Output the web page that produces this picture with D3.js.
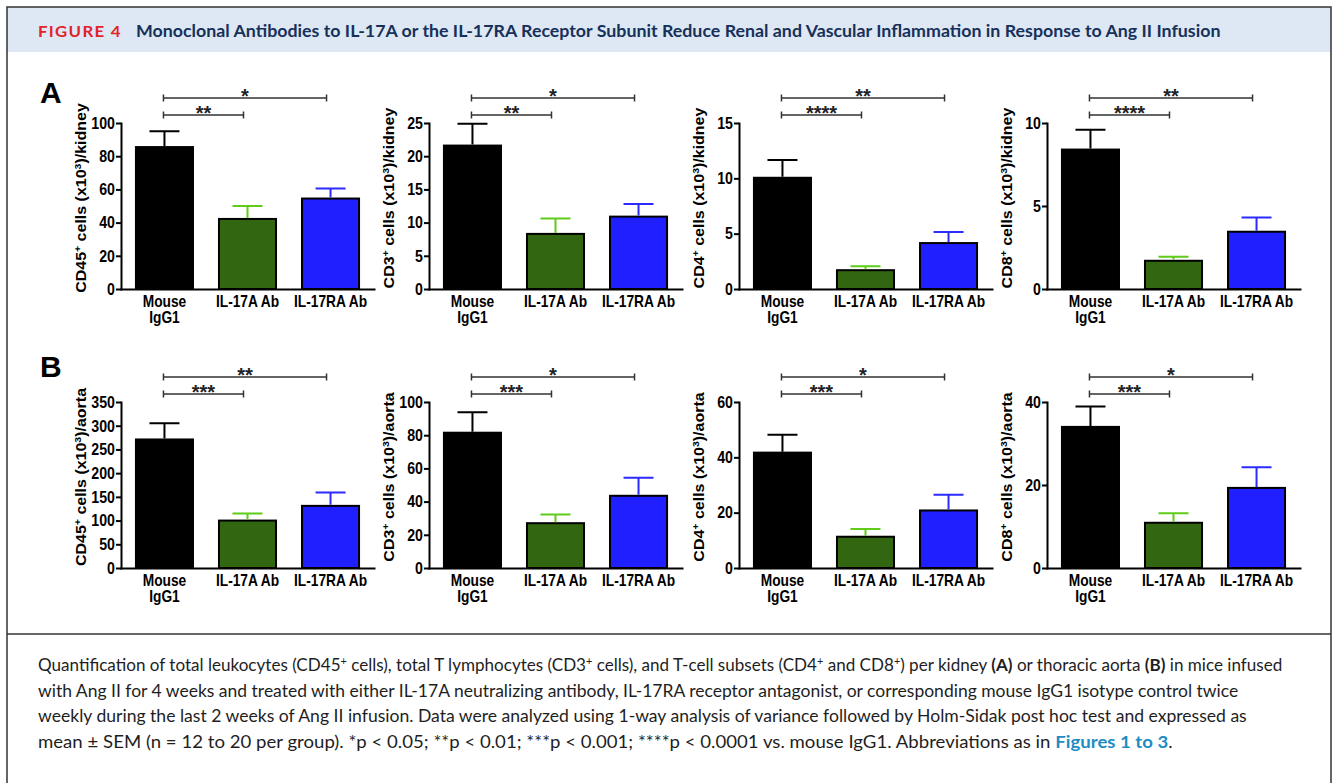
<!DOCTYPE html>
<html>
<head>
<meta charset="utf-8">
<script src="https://cdn.jsdelivr.net/npm/d3@7"></script>
<style>
  body { margin: 0; background: #fff; }
  svg { display: block; }
</style>
</head>
<body>
<div id="fig"></div>
<script>
// groups on the x axis
const groups = ["Mouse IgG1", "IL-17A Ab", "IL-17RA Ab"];
const groupLines = [["Mouse", "IgG1"], ["IL-17A Ab"], ["IL-17RA Ab"]];
const markers = ["CD45", "CD3", "CD4", "CD8"];

// A - per kidney (x10^3 cells), mean and SEM
const cd45Kidney = [85.5, 42.2, 54.5];
const cd45KidneySem = [9.6, 7.8, 6.1];
const cd3Kidney = [21.6, 8.3, 10.9];
const cd3KidneySem = [3.3, 2.3, 1.9];
const cd4Kidney = [10.05, 1.7, 4.15];
const cd4KidneySem = [1.6, 0.35, 1.0];
const cd8Kidney = [8.4, 1.7, 3.45];
const cd8KidneySem = [1.2, 0.25, 0.85];

// B - per aorta (x10^3 cells), mean and SEM
const cd45Aorta = [271, 100, 131];
const cd45AortaSem = [34, 15, 28];
const cd3Aorta = [81.5, 27, 43.5];
const cd3AortaSem = [12.3, 5.2, 10.8];
const cd4Aorta = [41.7, 11.3, 20.8];
const cd4AortaSem = [6.5, 2.8, 5.7];
const cd8Aorta = [34, 10.9, 19.3];
const cd8AortaSem = [4.9, 2.3, 5.0];

// tick labels
const kidneyTicks = [[0, 20, 40, 60, 80, 100], [0, 5, 10, 15, 20, 25], [0, 5, 10, 15], [0, 5, 10]];
const aortaTicks = [[0, 50, 100, 150, 200, 250, 300, 350], [0, 20, 40, 60, 80, 100], [0, 20, 40, 60], [0, 20, 40]];

// significance vs mouse IgG1: [IL-17A Ab, IL-17RA Ab]
const kidneyStars = [["**", "*"], ["**", "*"], ["****", "**"], ["****", "**"]];
const aortaStars = [["***", "**"], ["***", "*"], ["***", "*"], ["***", "*"]];

const fills = ["#000000", "#336611", "#1f1fff"];
const errColors = ["#000000", "#5ecc18", "#2b2bff"];

const W = 1336, H = 783;
const squeeze = 0.86;
const font = "'Liberation Sans', Arial, Helvetica, sans-serif";

const svg = d3.select("#fig").append("svg")
    .attr("width", W).attr("height", H)
    .attr("font-family", font);

// frame + header band
svg.append("rect")
    .attr("x", 7).attr("y", 7).attr("width", 1324).attr("height", 45)
    .attr("fill", "#dde8f4");
svg.append("rect")
    .attr("x", 7).attr("y", 7).attr("width", 1324).attr("height", 820)
    .attr("fill", "none").attr("stroke", "#333").attr("stroke-width", 1.5);
svg.append("line")
    .attr("x1", 7).attr("x2", 1331).attr("y1", 634).attr("y2", 634)
    .attr("stroke", "#333").attr("stroke-width", 1.5);

// fit a text element to a given width by squeezing it horizontally
function fitWidth(sel, x, y, width) {
    const w = sel.node().getComputedTextLength();
    sel.attr("transform", `translate(${x},${y}) scale(${width / w},1)`);
}

const fig = svg.append("text")
    .attr("font-family", "Lato, 'Open Sans', sans-serif")
    .attr("font-weight", "bold").attr("font-size", 15.5)
    .attr("letter-spacing", 1.2)
    .attr("fill", "#e2232a")
    .text("FIGURE 4");
fitWidth(fig, 38, 37, 84);

const title = svg.append("text")
    .attr("font-family", "Lato, 'Open Sans', sans-serif")
    .attr("font-weight", "bold").attr("font-size", 16.5)
    .attr("fill", "#17305a")
    .text("Monoclonal Antibodies to IL-17A or the IL-17RA Receptor Subunit Reduce Renal and Vascular Inflammation in Response to Ang II Infusion");
fitWidth(title, 136, 37, 1085);

// panel letters
svg.append("text").attr("x", 40).attr("y", 103)
    .attr("font-size", 30).attr("font-weight", "bold").text("A");
svg.append("text").attr("x", 40).attr("y", 377)
    .attr("font-size", 30).attr("font-weight", "bold").text("B");

function drawPanel(ax, top, bottom, means, sems, ticks, stars, marker, organ) {
    const g = svg.append("g");
    const y = d3.scaleLinear().domain([0, d3.max(ticks)]).range([bottom, top]);
    const x = d3.scaleBand().domain(groups).range([ax, ax + 253])
        .paddingInner(0.313).paddingOuter(0.18);
    const bw = x.bandwidth();
    const rows = groups.map((k, i) => ({ k: k, m: means[i], s: sems[i], i: i }));

    g.selectAll(".bar").data(rows).join("rect")
        .attr("class", "bar")
        .attr("x", d => x(d.k))
        .attr("y", d => y(d.m))
        .attr("width", bw)
        .attr("height", d => y(0) - y(d.m))
        .attr("fill", d => fills[d.i])
        .attr("stroke", "#000").attr("stroke-width", 2);

    g.selectAll(".err").data(rows).join("path")
        .attr("class", "err")
        .attr("d", d => {
            const cx = x(d.k) + bw / 2, y0 = y(d.m) - 1, y1 = y(d.m + d.s);
            return `M${cx},${y0}V${y1}M${cx - 15},${y1}H${cx + 15}`;
        })
        .attr("fill", "none")
        .attr("stroke", d => errColors[d.i]).attr("stroke-width", 2);

    // y axis
    g.append("g")
        .attr("transform", `translate(${ax},0)`)
        .call(d3.axisLeft(y).tickValues(ticks).tickSize(5).tickSizeOuter(0).tickPadding(2))
        .call(a => {
            a.attr("font-family", font).attr("font-size", 16.5).attr("font-weight", "bold");
            a.select(".domain").attr("stroke-width", 2).attr("stroke-linecap", "square");
            a.selectAll(".tick line").attr("stroke-width", 2);
            a.selectAll(".tick text").attr("fill", "#000")
                .attr("transform", `scale(${squeeze},1)`);
        });

    // x axis baseline + group labels
    g.append("g")
        .attr("transform", `translate(0,${bottom})`)
        .call(d3.axisBottom(x).tickSize(0).tickSizeOuter(0).tickFormat(() => ""))
        .call(a => {
            a.attr("font-family", font).attr("font-size", 16).attr("font-weight", "bold");
            a.select(".domain").attr("stroke-width", 2).attr("stroke-linecap", "square");
            a.selectAll(".tick text").each(function (d, i) {
                const t = d3.select(this).attr("y", 18).attr("dy", null)
                    .attr("fill", "#000")
                    .attr("transform", `scale(${squeeze},1)`);
                groupLines[i].forEach((ln, j) => {
                    t.append("tspan").attr("x", 0).attr("dy", j ? 16 : 0).text(ln);
                });
            });
        });

    // y title
    const yt = g.append("text")
        .attr("transform", `translate(${ax - 35},${(top + bottom) / 2 - 8}) rotate(-90) scale(1,0.92)`)
        .attr("text-anchor", "middle")
        .attr("font-size", 16).attr("font-weight", "bold");
    yt.append("tspan").text(marker);
    yt.append("tspan").attr("baseline-shift", "super").attr("font-size", 10.5).text("+");
    yt.append("tspan").text(" cells (x10");
    yt.append("tspan").attr("baseline-shift", "super").attr("font-size", 10.5).text("3");
    yt.append("tspan").text(")/" + organ);

    // significance brackets
    const c = k => x(groups[k]) + bw / 2;
    [[1, top - 8, stars[0]], [2, top - 25, stars[1]]].forEach(([k, ly, s]) => {
        const x0 = c(0) - 1, x1 = c(k) - 4;
        g.append("path")
            .attr("d", `M${x0},${ly - 3.5}V${ly + 3.5}M${x0},${ly}H${x1}M${x1},${ly - 3.5}V${ly + 3.5}`)
            .attr("fill", "none").attr("stroke", "#333").attr("stroke-width", 1.5);
        g.append("text")
            .attr("x", (x0 + x1) / 2).attr("y", ly + 5)
            .attr("text-anchor", "middle")
            .attr("font-size", 20).attr("font-weight", "bold")
            .attr("fill", "#222")
            .text(s);
    });
}

const axisX = [121, 429, 739, 1047];
const kidneyMeans = [cd45Kidney, cd3Kidney, cd4Kidney, cd8Kidney];
const kidneySems = [cd45KidneySem, cd3KidneySem, cd4KidneySem, cd8KidneySem];
const aortaMeans = [cd45Aorta, cd3Aorta, cd4Aorta, cd8Aorta];
const aortaSems = [cd45AortaSem, cd3AortaSem, cd4AortaSem, cd8AortaSem];

markers.forEach((m, i) => {
    drawPanel(axisX[i], 123, 289, kidneyMeans[i], kidneySems[i], kidneyTicks[i], kidneyStars[i], m, "kidney");
    drawPanel(axisX[i], 402, 568, aortaMeans[i], aortaSems[i], aortaTicks[i], aortaStars[i], m, "aorta");
});

// caption
const caption = [
    [["Quantification of total leukocytes (CD45"], ["+", "sup"], [" cells), total T lymphocytes (CD3"], ["+", "sup"],
     [" cells), and T-cell subsets (CD4"], ["+", "sup"], [" and CD8"], ["+", "sup"], [") per kidney "], ["(A)", "b"],
     [" or thoracic aorta "], ["(B)", "b"], [" in mice infused"]],
    [["with Ang II for 4 weeks and treated with either IL-17A neutralizing antibody, IL-17RA receptor antagonist, or corresponding mouse IgG1 isotype control twice"]],
    [["weekly during the last 2 weeks of Ang II infusion. Data were analyzed using 1-way analysis of variance followed by Holm-Sidak post hoc test and expressed as"]],
    [["mean \u00b1 SEM (n = 12 to 20 per group). *p < 0.05; **p < 0.01; ***p < 0.001; ****p < 0.0001 vs. mouse IgG1. Abbreviations as in "],
     ["Figures 1 to 3", "link"], ["."]]
];
const captionY = [671, 697, 722, 748];
const captionW = [1245, 1201, 1210, 1135];

caption.forEach((segs, li) => {
    const t = svg.append("text")
        .attr("font-family", "Lato, 'Open Sans', sans-serif")
        .attr("font-size", 16.5).attr("fill", "#1e1e1e");
    segs.forEach(([txt, st]) => {
        const sp = t.append("tspan").text(txt);
        if (st === "sup") sp.attr("baseline-shift", "super").attr("font-size", 10.5);
        if (st === "b") sp.attr("font-weight", "bold");
        if (st === "link") sp.attr("font-weight", "bold").attr("fill", "#1d8cc4");
    });
    fitWidth(t, 38, captionY[li], captionW[li]);
});
</script>
</body>
</html>
